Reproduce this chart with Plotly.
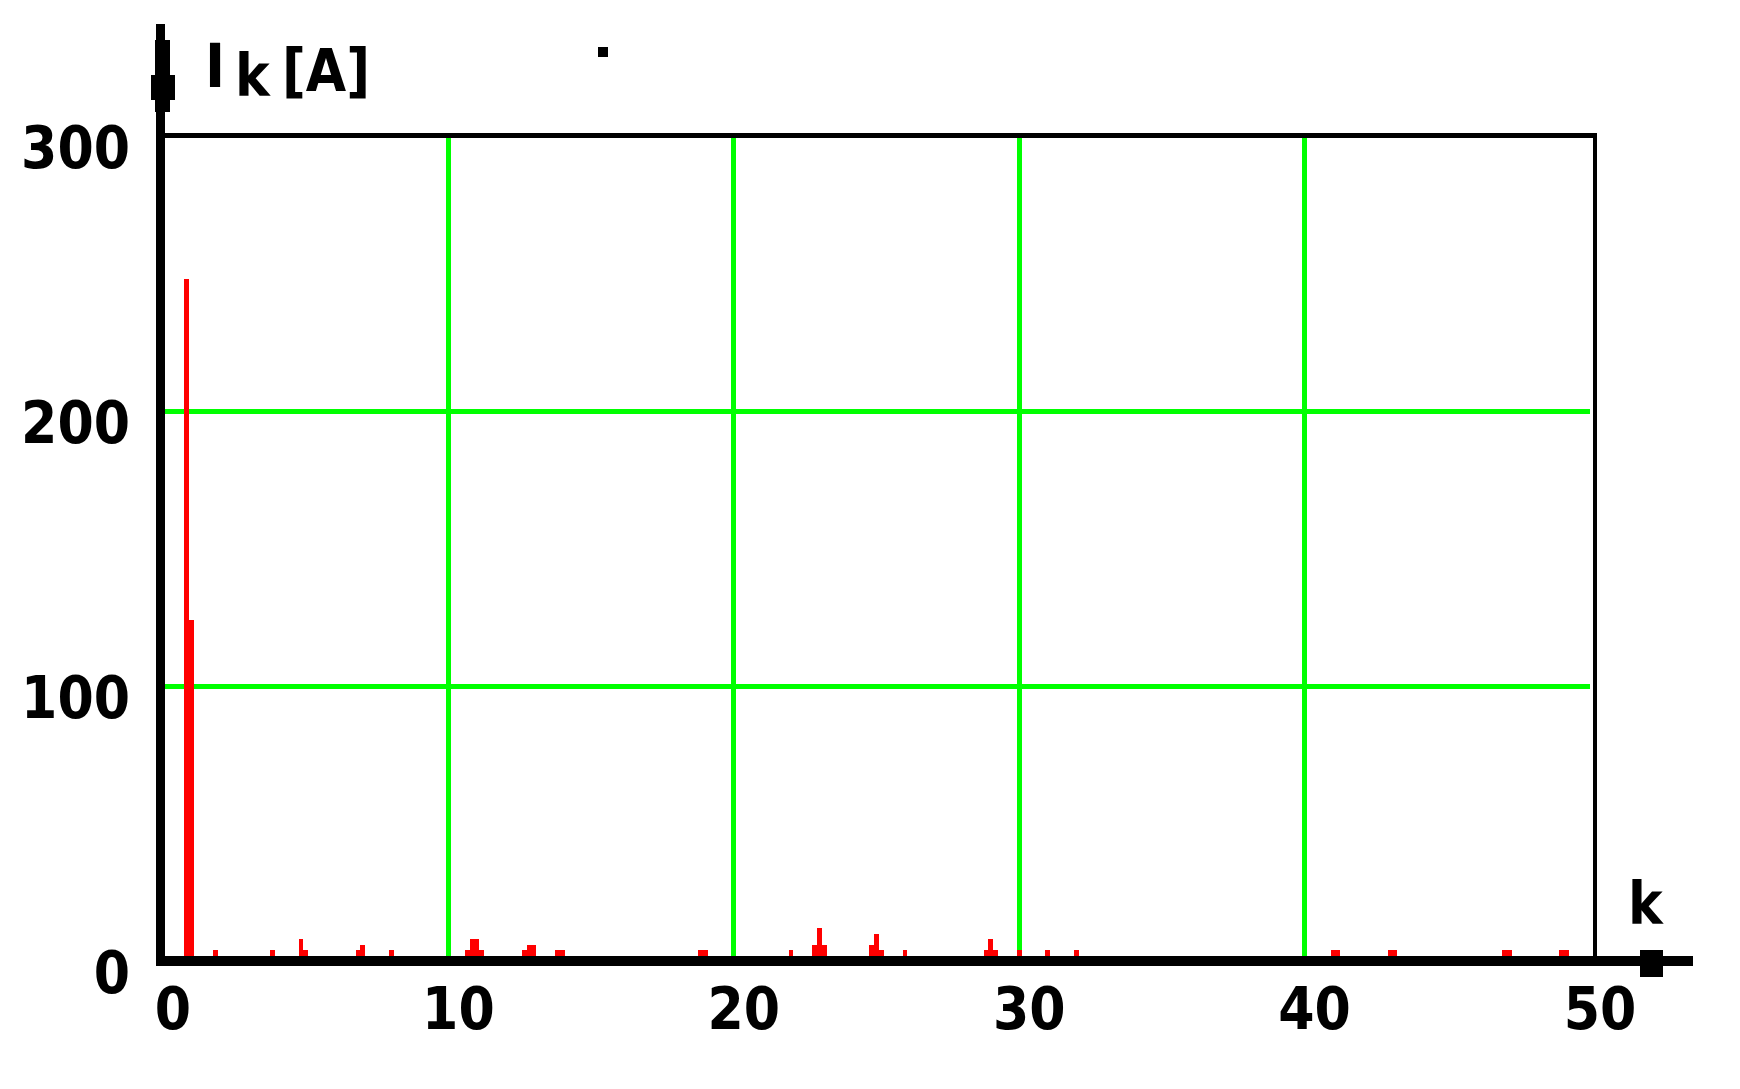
import plotly.graph_objects as go

# ---------------- data ----------------
k_order = [0.833, 1.0, 1.833, 3.833, 4.833, 5.0, 6.833, 7.0, 8.0,
           10.667, 10.833, 11.0, 11.167, 12.667, 12.833, 13.0, 13.833, 14.0,
           18.833, 19.0, 22.0, 22.833, 23.0, 23.167, 24.833, 25.0, 25.167,
           26.0, 28.833, 29.0, 29.167, 30.0, 31.0, 32.0,
           41.0, 41.167, 43.0, 43.167, 47.0, 47.167, 49.0, 49.167]
I_k = [248, 124, 4, 4, 8, 4, 4, 6, 4,
       4, 8, 8, 4, 4, 6, 6, 4, 4,
       4, 4, 4, 6, 12, 6, 6, 10, 4,
       4, 4, 8, 4, 4, 4, 4,
       4, 4, 4, 4, 4, 4, 4, 4]
bin_width = 1 / 6
x_ticks = [0, 10, 20, 30, 40, 50]
y_ticks = [0, 100, 200, 300]
x_range = [0, 50]
y_range = [0, 300]

# ---------------- layout geometry ----------------
W, H = 1740, 1089
OFF = 8  # page body margin
L, R, T, B = 155, 158, 128, 136
PW, PH = W - L - R, H - T - B

FONT = "DejaVu Sans Condensed, DejaVu Sans, Liberation Sans"
RED = "#FF0000"
GREEN = "#00FF00"

fig = go.Figure()
fig.add_trace(go.Bar(x=k_order, y=I_k, width=bin_width,
                     marker=dict(color=RED, line=dict(width=0)),
                     showlegend=False, hoverinfo="x+y"))


def px_rect(x0, x1, y0, y1):
    """rectangle given in page pixels (top-left origin)."""
    return dict(type="rect", xref="paper", yref="paper",
                xsizemode="pixel", ysizemode="pixel", xanchor=0, yanchor=0,
                x0=x0 - OFF - L, x1=x1 - OFF - L,
                y0=(H - B) - (y1 - OFF), y1=(H - B) - (y0 - OFF),
                fillcolor="black", line=dict(width=0), layer="above")


shapes = [
    px_rect(156, 165, 24, 966),     # y axis line
    px_rect(155, 170, 40, 112),     # y arrow
    px_rect(151, 175, 75, 100),
    px_rect(161, 1693, 956, 966),   # x axis line
    px_rect(1640, 1663, 950, 977),  # x arrow
    px_rect(163, 1597, 133, 138),   # top border
    px_rect(1593, 1597, 133, 960),  # right border
    px_rect(598, 608, 47, 57),      # stray dot
]


def ann(text, x, y, size=58, color="black"):
    return dict(text=text, xref="paper", yref="paper",
                x=(x - OFF - L) / PW, y=((H - B) - (y - OFF)) / PH,
                xanchor="left", yanchor="middle", showarrow=False,
                font=dict(family=FONT, size=size, color=color, weight="bold"))


annotations = [
    ann("I", 203, 66, size=60),
    ann("k", 233, 76),
    ann("[A]", 280, 71),
    ann("k", 1626, 904),
]

tickfont = dict(family=FONT, size=58, color="black", weight="bold")

fig.update_layout(
    width=W, height=H,
    margin=dict(l=L, r=R, t=T, b=B, pad=0),
    paper_bgcolor="white", plot_bgcolor="white",
    bargap=0,
    shapes=shapes, annotations=annotations,
    xaxis=dict(range=x_range, tickmode="array", tickvals=x_ticks,
               ticktext=[str(v) for v in x_ticks],
               showgrid=True, gridcolor=GREEN, gridwidth=4.5,
               zeroline=False, showline=False, ticks="",
               ticklabelshift=10, ticklabelstandoff=9,
               tickfont=tickfont),
    yaxis=dict(range=y_range, tickmode="array", tickvals=y_ticks,
               ticktext=[str(v) for v in y_ticks],
               showgrid=True, gridcolor=GREEN, gridwidth=4.5,
               zeroline=False, showline=False, ticks="",
               ticklabelshift=12, ticklabelstandoff=32,
               tickfont=tickfont),
)

fig.write_html("out.html")
